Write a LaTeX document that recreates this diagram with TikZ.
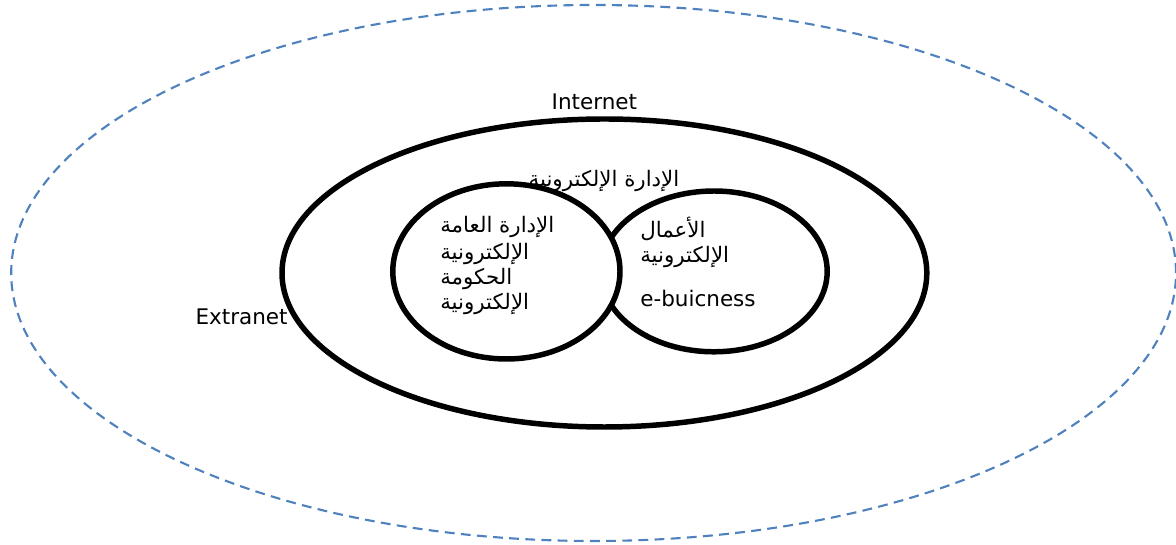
\documentclass[tikz,border=0pt]{standalone}
\usepackage{fontspec}
\setmainfont{DejaVu Sans}
\newfontfamily\arabicfont[Script=Arabic]{DejaVu Sans}
\TeXXeTstate=1
\definecolor{netblue}{RGB}{79,129,189}

\begin{document}
\begin{tikzpicture}[ring/.style={line width=3.9pt},
  txt/.style={font=\fontsize{15.3}{18}\selectfont, inner sep=0pt},
  ar/.style={font=\arabicfont\fontsize{15.2}{18}\selectfont, inner sep=0pt}]
\useasboundingbox (0,0) rectangle (29.4,13.625);

% the three rings
\draw [netblue, line width=1.5pt, dash pattern=on 7pt off 4.5pt] (14.84,6.8) ellipse [x radius=14.56, y radius=6.7];
\draw [ring] (15.11,6.8) ellipse [x radius=8.06, y radius=3.85];
\draw [ring] (17.85,6.84) ellipse [x radius=2.83, y radius=2.01];
\draw [ring, fill=white] (12.66,6.84) ellipse [x radius=2.84, y radius=2.19];

\node [txt, anchor=base] (internet) at (14.86,10.875) {Internet};
\node [txt, anchor=base] (extranet) at (6.04,5.5) {Extranet};
\node [ar, anchor=base] (eadmin) at (15.1,8.95) {\beginR الإدارة الإلكترونية\endR};

\node [ar, anchor=base west] (pub1) at (11,7.8) {\beginR الإدارة العامة\endR};
\node [ar, anchor=base west] (pub2) at (11,7.125) {\beginR الإلكترونية\endR};
\node [ar, anchor=base west] (gov1) at (11,6.5) {\beginR الحكومة\endR};
\node [ar, anchor=base west] (gov2) at (11,5.875) {\beginR الإلكترونية\endR};

\node [ar, anchor=base west] (biz1) at (16,7.675) {\beginR الأعمال\endR};
\node [ar, anchor=base west] (biz2) at (16,7.05) {\beginR الإلكترونية\endR};
\node [txt, anchor=base west] (ebiz) at (16,5.96) {e-buicness};
\end{tikzpicture}
\end{document}
